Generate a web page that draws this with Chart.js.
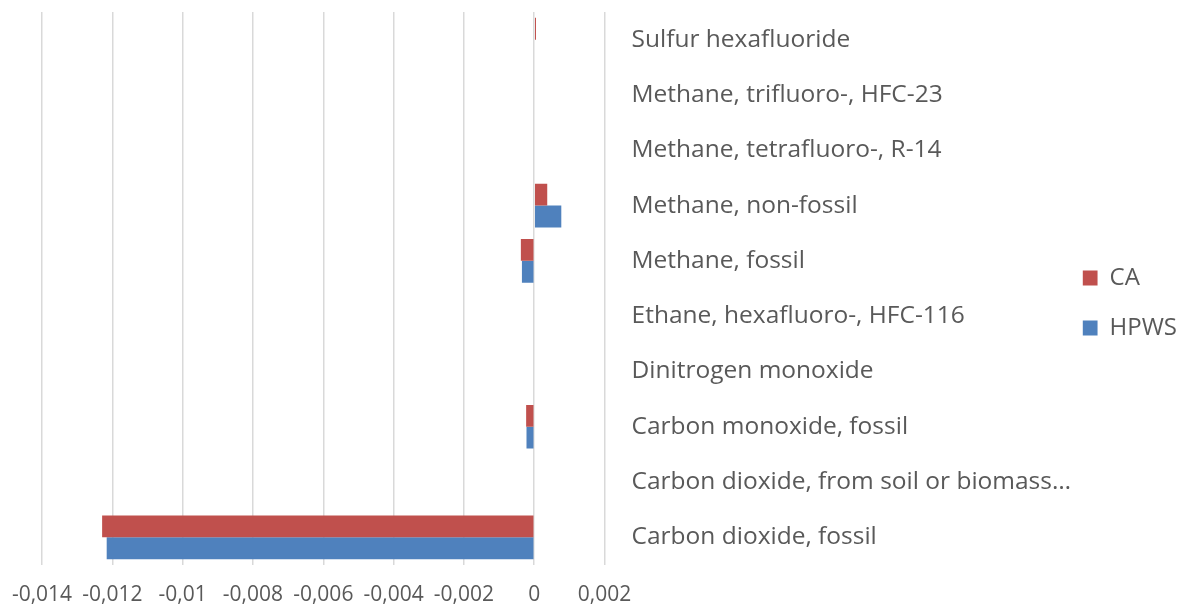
<!DOCTYPE html>
<html>
<head>
<meta charset="utf-8">
<script src="https://cdn.jsdelivr.net/npm/chart.js@4.4.1/dist/chart.umd.min.js"></script>
<style>
  html, body { margin: 0; padding: 0; background: #ffffff; }
  #wrap { width: 1179px; height: 605px; position: relative; }
</style>
</head>
<body>
<div id="wrap"><canvas id="chart"></canvas></div>
<script>
// Emission categories, listed top to bottom
const categories = [
  "Sulfur hexafluoride",
  "Methane, trifluoro-, HFC-23",
  "Methane, tetrafluoro-, R-14",
  "Methane, non-fossil",
  "Methane, fossil",
  "Ethane, hexafluoro-, HFC-116",
  "Dinitrogen monoxide",
  "Carbon monoxide, fossil",
  "Carbon dioxide, from soil or biomass\u2026",
  "Carbon dioxide, fossil"
];

const caValues   = [0.00005, 0, 0, 0.00037, -0.00038, 0, 0, -0.00023, 0, -0.01229];
const hpwsValues = [0,       0, 0, 0.00077, -0.00035, 0, 0, -0.00022, 0, -0.01216];

const xMin = -0.014;
const xMax = 0.002;
const xStep = 0.002;

const textColor = "#595959";
const fontFamily = "'Open Sans', 'Noto Sans', sans-serif";

// Legend entries as one-line arrays so the row height follows font.lineHeight
const legendLabels = (chart) =>
  Chart.defaults.plugins.legend.labels.generateLabels(chart)
    .map((item) => Object.assign({}, item, { text: [item.text] }));

new Chart(document.getElementById("chart"), {
  type: "bar",
  data: {
    labels: categories,
    datasets: [
      { label: "CA",   data: caValues,   backgroundColor: "#C0504D" },
      { label: "HPWS", data: hpwsValues, backgroundColor: "#4F81BD" }
    ]
  },
  options: {
    indexAxis: "y",
    responsive: true,
    maintainAspectRatio: false,
    animation: false,
    categoryPercentage: 0.79,
    barPercentage: 1.0,
    layout: { padding: { left: 42, right: -8, top: 0, bottom: 0 } },
    plugins: {
      tooltip: { enabled: false },
      legend: {
        position: "right",
        align: "center",
        title: { display: true, text: " ", font: { size: 10 }, padding: 7.5 },
        labels: {
          color: textColor,
          font: { family: fontFamily, size: 24, lineHeight: 50 / 24 },
          boxWidth: 15,
          boxHeight: 15,
          padding: 0,
          generateLabels: legendLabels
        }
      }
    },
    scales: {
      x: {
        min: xMin,
        max: xMax,
        ticks: {
          stepSize: xStep,
          color: textColor,
          font: { family: fontFamily, size: 21 },
          padding: 17,
          maxRotation: 0,
          callback: (v) => String(Number(v.toFixed(3))).replace(".", ",")
        },
        grid: { color: "#d9d9d9", lineWidth: 1.5, drawTicks: false },
        border: { display: false },
        afterFit: (s) => { s.height = 40; s.paddingLeft = 0; s.paddingRight = 0; }
      },
      y: {
        position: "right",
        grid: { display: false, drawTicks: false },
        border: { display: false },
        ticks: {
          color: textColor,
          font: { family: fontFamily, size: 24.5 },
          padding: 27,
          crossAlign: "near",
          autoSkip: false
        },
        afterFit: (s) => { s.width = 478; s.paddingTop = 12; s.paddingBottom = 0; }
      }
    }
  }
});
</script>
</body>
</html>
